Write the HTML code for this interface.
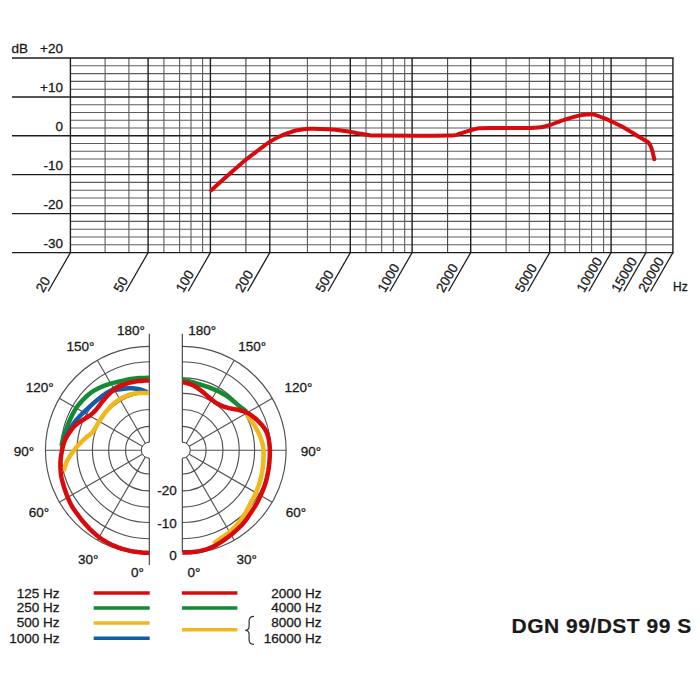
<!DOCTYPE html>
<html><head><meta charset="utf-8"><style>
html,body{margin:0;padding:0;background:#fff;}
svg{display:block;}
text{font-family:"Liberation Sans",sans-serif;fill:#1a1a1a;stroke:#1a1a1a;stroke-width:0.3px;}
</style></head><body>
<svg width="700" height="700" viewBox="0 0 700 700">
<rect width="700" height="700" fill="#fff"/>
<line x1="70.4" y1="65.80" x2="672.9" y2="65.80" stroke="#5c5c5c" stroke-width="1.1"/>
<line x1="70.4" y1="73.60" x2="672.9" y2="73.60" stroke="#5c5c5c" stroke-width="1.1"/>
<line x1="70.4" y1="81.40" x2="672.9" y2="81.40" stroke="#5c5c5c" stroke-width="1.1"/>
<line x1="70.4" y1="89.20" x2="672.9" y2="89.20" stroke="#5c5c5c" stroke-width="1.1"/>
<line x1="70.4" y1="104.74" x2="672.9" y2="104.74" stroke="#5c5c5c" stroke-width="1.1"/>
<line x1="70.4" y1="112.48" x2="672.9" y2="112.48" stroke="#5c5c5c" stroke-width="1.1"/>
<line x1="70.4" y1="120.22" x2="672.9" y2="120.22" stroke="#5c5c5c" stroke-width="1.1"/>
<line x1="70.4" y1="127.96" x2="672.9" y2="127.96" stroke="#5c5c5c" stroke-width="1.1"/>
<line x1="70.4" y1="143.48" x2="672.9" y2="143.48" stroke="#5c5c5c" stroke-width="1.1"/>
<line x1="70.4" y1="151.26" x2="672.9" y2="151.26" stroke="#5c5c5c" stroke-width="1.1"/>
<line x1="70.4" y1="159.04" x2="672.9" y2="159.04" stroke="#5c5c5c" stroke-width="1.1"/>
<line x1="70.4" y1="166.82" x2="672.9" y2="166.82" stroke="#5c5c5c" stroke-width="1.1"/>
<line x1="70.4" y1="182.40" x2="672.9" y2="182.40" stroke="#5c5c5c" stroke-width="1.1"/>
<line x1="70.4" y1="190.20" x2="672.9" y2="190.20" stroke="#5c5c5c" stroke-width="1.1"/>
<line x1="70.4" y1="198.00" x2="672.9" y2="198.00" stroke="#5c5c5c" stroke-width="1.1"/>
<line x1="70.4" y1="205.80" x2="672.9" y2="205.80" stroke="#5c5c5c" stroke-width="1.1"/>
<line x1="70.4" y1="221.40" x2="672.9" y2="221.40" stroke="#5c5c5c" stroke-width="1.1"/>
<line x1="70.4" y1="229.20" x2="672.9" y2="229.20" stroke="#5c5c5c" stroke-width="1.1"/>
<line x1="70.4" y1="237.00" x2="672.9" y2="237.00" stroke="#5c5c5c" stroke-width="1.1"/>
<line x1="70.4" y1="244.80" x2="672.9" y2="244.80" stroke="#5c5c5c" stroke-width="1.1"/>
<line x1="105.1" y1="58.0" x2="105.1" y2="252.6" stroke="#5c5c5c" stroke-width="1.1"/>
<line x1="128.9" y1="58.0" x2="128.9" y2="252.6" stroke="#5c5c5c" stroke-width="1.1"/>
<line x1="163.9" y1="58.0" x2="163.9" y2="252.6" stroke="#5c5c5c" stroke-width="1.1"/>
<line x1="179.6" y1="58.0" x2="179.6" y2="252.6" stroke="#5c5c5c" stroke-width="1.1"/>
<line x1="191.0" y1="58.0" x2="191.0" y2="252.6" stroke="#5c5c5c" stroke-width="1.1"/>
<line x1="202.6" y1="58.0" x2="202.6" y2="252.6" stroke="#5c5c5c" stroke-width="1.1"/>
<line x1="245.9" y1="58.0" x2="245.9" y2="252.6" stroke="#444" stroke-width="1.1"/>
<line x1="307.4" y1="58.0" x2="307.4" y2="252.6" stroke="#5c5c5c" stroke-width="1.1"/>
<line x1="330.4" y1="58.0" x2="330.4" y2="252.6" stroke="#5c5c5c" stroke-width="1.1"/>
<line x1="366.0" y1="58.0" x2="366.0" y2="252.6" stroke="#5c5c5c" stroke-width="1.1"/>
<line x1="381.7" y1="58.0" x2="381.7" y2="252.6" stroke="#5c5c5c" stroke-width="1.1"/>
<line x1="393.3" y1="58.0" x2="393.3" y2="252.6" stroke="#5c5c5c" stroke-width="1.1"/>
<line x1="404.7" y1="58.0" x2="404.7" y2="252.6" stroke="#5c5c5c" stroke-width="1.1"/>
<line x1="447.6" y1="58.0" x2="447.6" y2="252.6" stroke="#444" stroke-width="1.1"/>
<line x1="506.1" y1="58.0" x2="506.1" y2="252.6" stroke="#5c5c5c" stroke-width="1.1"/>
<line x1="529.3" y1="58.0" x2="529.3" y2="252.6" stroke="#5c5c5c" stroke-width="1.1"/>
<line x1="565.0" y1="58.0" x2="565.0" y2="252.6" stroke="#5c5c5c" stroke-width="1.1"/>
<line x1="579.6" y1="58.0" x2="579.6" y2="252.6" stroke="#5c5c5c" stroke-width="1.1"/>
<line x1="591.6" y1="58.0" x2="591.6" y2="252.6" stroke="#5c5c5c" stroke-width="1.1"/>
<line x1="603.6" y1="58.0" x2="603.6" y2="252.6" stroke="#5c5c5c" stroke-width="1.1"/>
<line x1="646.0" y1="58.0" x2="646.0" y2="252.6" stroke="#444" stroke-width="1.1"/>
<line x1="70.4" y1="58.0" x2="70.4" y2="252.6" stroke="#1e1e1e" stroke-width="1.4"/>
<line x1="148.1" y1="58.0" x2="148.1" y2="252.6" stroke="#1e1e1e" stroke-width="1.4"/>
<line x1="210.4" y1="58.0" x2="210.4" y2="252.6" stroke="#1e1e1e" stroke-width="1.4"/>
<line x1="269.8" y1="58.0" x2="269.8" y2="252.6" stroke="#1e1e1e" stroke-width="1.4"/>
<line x1="350.3" y1="58.0" x2="350.3" y2="252.6" stroke="#1e1e1e" stroke-width="1.4"/>
<line x1="412.1" y1="58.0" x2="412.1" y2="252.6" stroke="#1e1e1e" stroke-width="1.4"/>
<line x1="470.7" y1="58.0" x2="470.7" y2="252.6" stroke="#1e1e1e" stroke-width="1.4"/>
<line x1="549.7" y1="58.0" x2="549.7" y2="252.6" stroke="#1e1e1e" stroke-width="1.4"/>
<line x1="611.1" y1="58.0" x2="611.1" y2="252.6" stroke="#1e1e1e" stroke-width="1.4"/>
<line x1="672.9" y1="58.0" x2="672.9" y2="252.6" stroke="#1e1e1e" stroke-width="1.4"/>
<line x1="12" y1="58.0" x2="673.6" y2="58.0" stroke="#1e1e1e" stroke-width="1.4"/>
<line x1="12" y1="97.0" x2="673.6" y2="97.0" stroke="#1e1e1e" stroke-width="1.4"/>
<line x1="12" y1="135.7" x2="673.6" y2="135.7" stroke="#1e1e1e" stroke-width="1.4"/>
<line x1="12" y1="174.6" x2="673.6" y2="174.6" stroke="#1e1e1e" stroke-width="1.4"/>
<line x1="12" y1="213.6" x2="673.6" y2="213.6" stroke="#1e1e1e" stroke-width="1.4"/>
<line x1="12" y1="252.6" x2="673.6" y2="252.6" stroke="#1e1e1e" stroke-width="1.4"/>
<line x1="70.4" y1="252.6" x2="48.2" y2="291.3" stroke="#1e1e1e" stroke-width="1.3"/>
<text x="0" y="0" transform="translate(43.20,293.20) rotate(-60)" font-size="13.5">20</text>
<line x1="148.1" y1="252.6" x2="125.89999999999999" y2="291.3" stroke="#1e1e1e" stroke-width="1.3"/>
<text x="0" y="0" transform="translate(120.90,293.20) rotate(-60)" font-size="13.5">50</text>
<line x1="210.4" y1="252.6" x2="188.20000000000002" y2="291.3" stroke="#1e1e1e" stroke-width="1.3"/>
<text x="0" y="0" transform="translate(183.20,293.20) rotate(-60)" font-size="13.5">100</text>
<line x1="269.8" y1="252.6" x2="247.60000000000002" y2="291.3" stroke="#1e1e1e" stroke-width="1.3"/>
<text x="0" y="0" transform="translate(242.60,293.20) rotate(-60)" font-size="13.5">200</text>
<line x1="350.3" y1="252.6" x2="328.1" y2="291.3" stroke="#1e1e1e" stroke-width="1.3"/>
<text x="0" y="0" transform="translate(323.10,293.20) rotate(-60)" font-size="13.5">500</text>
<line x1="412.1" y1="252.6" x2="389.90000000000003" y2="291.3" stroke="#1e1e1e" stroke-width="1.3"/>
<text x="0" y="0" transform="translate(384.90,293.20) rotate(-60)" font-size="13.5">1000</text>
<line x1="470.7" y1="252.6" x2="448.5" y2="291.3" stroke="#1e1e1e" stroke-width="1.3"/>
<text x="0" y="0" transform="translate(443.50,293.20) rotate(-60)" font-size="13.5">2000</text>
<line x1="549.7" y1="252.6" x2="527.5" y2="291.3" stroke="#1e1e1e" stroke-width="1.3"/>
<text x="0" y="0" transform="translate(522.50,293.20) rotate(-60)" font-size="13.5">5000</text>
<line x1="611.1" y1="252.6" x2="588.9" y2="291.3" stroke="#1e1e1e" stroke-width="1.3"/>
<text x="0" y="0" transform="translate(583.90,293.20) rotate(-60)" font-size="13.5">10000</text>
<line x1="646.0" y1="252.6" x2="623.8" y2="291.3" stroke="#1e1e1e" stroke-width="1.3"/>
<text x="0" y="0" transform="translate(618.80,293.20) rotate(-60)" font-size="13.5">15000</text>
<line x1="672.9" y1="252.6" x2="650.6999999999999" y2="291.3" stroke="#1e1e1e" stroke-width="1.3"/>
<text x="0" y="0" transform="translate(645.70,293.20) rotate(-60)" font-size="13.5">20000</text>
<text x="63" y="53.3" text-anchor="end" font-size="13.5">+20</text>
<text x="63" y="92.0" text-anchor="end" font-size="13.5">+10</text>
<text x="63" y="130.7" text-anchor="end" font-size="13.5">0</text>
<text x="63" y="170.0" text-anchor="end" font-size="13.5">-10</text>
<text x="63" y="209.0" text-anchor="end" font-size="13.5">-20</text>
<text x="63" y="248.0" text-anchor="end" font-size="13.5">-30</text>
<text x="11.5" y="53.3" font-size="13.5">dB</text>
<text x="673" y="290.6" font-size="12">Hz</text>
<path d="M211.3,190.3 C214.18,187.72 222.85,179.88 228.60,174.80 C234.35,169.72 240.80,163.93 245.80,159.80 C250.80,155.67 254.62,152.98 258.60,150.00 C262.58,147.02 266.13,144.18 269.70,141.90 C273.27,139.62 276.85,137.80 280.00,136.30 C283.15,134.80 285.75,133.90 288.60,132.90 C291.45,131.90 293.53,130.98 297.10,130.30 C300.67,129.62 304.75,128.97 310.00,128.80 C315.25,128.63 323.12,128.98 328.60,129.30 C334.08,129.62 338.17,130.07 342.90,130.70 C347.63,131.33 352.72,132.38 357.00,133.10 C361.28,133.82 364.77,134.58 368.60,135.00 C372.43,135.42 366.77,135.52 380.00,135.60 C393.23,135.68 434.77,135.83 448.00,135.50 C461.23,135.17 455.97,134.37 459.40,133.60 C462.83,132.83 465.27,131.80 468.60,130.90 C471.93,130.00 474.17,128.68 479.40,128.20 C484.63,127.72 492.28,128.03 500.00,128.00 C507.72,127.97 518.87,128.13 525.70,128.00 C532.53,127.87 536.95,127.70 541.00,127.20 C545.05,126.70 546.83,125.98 550.00,125.00 C553.17,124.02 557.50,122.20 560.00,121.30 C562.50,120.40 561.67,120.58 565.00,119.60 C568.33,118.62 576.00,116.27 580.00,115.40 C584.00,114.53 586.67,114.53 589.00,114.40 C591.33,114.27 591.50,113.97 594.00,114.60 C596.50,115.23 600.33,116.70 604.00,118.20 C607.67,119.70 612.98,122.20 616.00,123.60 C619.02,125.00 619.88,125.38 622.10,126.60 C624.32,127.82 626.92,129.47 629.30,130.90 C631.68,132.33 634.02,133.77 636.40,135.20 C638.78,136.63 641.62,138.30 643.60,139.50 C645.58,140.70 647.52,141.92 648.30,142.40 L648.3,142.4 C648.68,143.00 649.88,144.40 650.60,146.00 C651.32,147.60 651.98,149.78 652.60,152.00 C653.22,154.22 654.02,158.08 654.30,159.30" fill="none" stroke="#d80a0e" stroke-width="4.0" stroke-linejoin="round" stroke-linecap="round"/>
<path d="M149.3,426.4 A23.8,23.8 0 0 0 149.3,474.0" fill="none" stroke="#505050" stroke-width="1.15"/>
<path d="M149.3,409.5 A40.7,40.7 0 0 0 149.3,490.9" fill="none" stroke="#505050" stroke-width="1.15"/>
<path d="M149.3,393.3 A56.9,56.9 0 0 0 149.3,507.09999999999997" fill="none" stroke="#505050" stroke-width="1.15"/>
<path d="M149.3,377.9 A72.3,72.3 0 0 0 149.3,522.5" fill="none" stroke="#505050" stroke-width="1.15"/>
<path d="M149.3,361.7 A88.5,88.5 0 0 0 149.3,538.7" fill="none" stroke="#505050" stroke-width="1.15"/>
<path d="M149.3,346.29999999999995 A103.9,103.9 0 0 0 149.3,554.1" fill="none" stroke="#505050" stroke-width="1.15"/>
<line x1="145.30" y1="457.13" x2="97.35" y2="540.18" stroke="#505050" stroke-width="1.1"/>
<line x1="142.37" y1="454.20" x2="59.32" y2="502.15" stroke="#505050" stroke-width="1.1"/>
<line x1="141.30" y1="450.20" x2="45.40" y2="450.20" stroke="#505050" stroke-width="1.1"/>
<line x1="142.37" y1="446.20" x2="59.32" y2="398.25" stroke="#505050" stroke-width="1.1"/>
<line x1="145.30" y1="443.27" x2="97.35" y2="360.22" stroke="#505050" stroke-width="1.1"/>
<line x1="149.3" y1="333.7" x2="149.3" y2="442.2" stroke="#3a3a3a" stroke-width="1.1"/>
<line x1="149.3" y1="458.2" x2="149.3" y2="565" stroke="#3a3a3a" stroke-width="1.1"/>
<path d="M149.3,442.2 A8,8 0 0 0 149.3,458.2" fill="none" stroke="#3a3a3a" stroke-width="1"/>
<path d="M182.3,426.4 A23.8,23.8 0 0 1 182.3,474.0" fill="none" stroke="#505050" stroke-width="1.15"/>
<path d="M182.3,409.5 A40.7,40.7 0 0 1 182.3,490.9" fill="none" stroke="#505050" stroke-width="1.15"/>
<path d="M182.3,393.3 A56.9,56.9 0 0 1 182.3,507.09999999999997" fill="none" stroke="#505050" stroke-width="1.15"/>
<path d="M182.3,377.9 A72.3,72.3 0 0 1 182.3,522.5" fill="none" stroke="#505050" stroke-width="1.15"/>
<path d="M182.3,361.7 A88.5,88.5 0 0 1 182.3,538.7" fill="none" stroke="#505050" stroke-width="1.15"/>
<path d="M182.3,346.29999999999995 A103.9,103.9 0 0 1 182.3,554.1" fill="none" stroke="#505050" stroke-width="1.15"/>
<line x1="186.30" y1="457.13" x2="234.25" y2="540.18" stroke="#505050" stroke-width="1.1"/>
<line x1="189.23" y1="454.20" x2="272.28" y2="502.15" stroke="#505050" stroke-width="1.1"/>
<line x1="190.30" y1="450.20" x2="286.20" y2="450.20" stroke="#505050" stroke-width="1.1"/>
<line x1="189.23" y1="446.20" x2="272.28" y2="398.25" stroke="#505050" stroke-width="1.1"/>
<line x1="186.30" y1="443.27" x2="234.25" y2="360.22" stroke="#505050" stroke-width="1.1"/>
<line x1="182.3" y1="333.7" x2="182.3" y2="442.2" stroke="#3a3a3a" stroke-width="1.1"/>
<line x1="182.3" y1="458.2" x2="182.3" y2="552.5" stroke="#3a3a3a" stroke-width="1.1"/>
<path d="M182.3,442.2 A8,8 0 0 1 182.3,458.2" fill="none" stroke="#3a3a3a" stroke-width="1"/>
<path d="M149.00,377.80 L146.99,377.84 L144.99,377.89 L142.98,377.95 L140.98,378.02 L138.98,378.12 L136.98,378.25 L134.98,378.42 L132.99,378.64 L131.02,378.93 L129.06,379.29 L127.11,379.71 L125.17,380.17 L123.22,380.64 L121.28,381.09 L119.32,381.51 L117.37,381.93 L115.41,382.37 L113.46,382.83 L111.53,383.35 L109.61,383.92 L107.71,384.55 L105.82,385.22 L103.95,385.94 L102.09,386.69 L100.25,387.48 L98.43,388.30 L96.63,389.18 L94.88,390.12 L93.17,391.15 L91.53,392.26 L89.94,393.45 L88.40,394.72 L86.90,396.03 L85.43,397.38 L83.99,398.77 L82.58,400.19 L81.22,401.66 L79.91,403.17 L78.64,404.72 L77.43,406.31 L76.28,407.94 L75.19,409.61 L74.16,411.32 L73.19,413.07 L72.27,414.85 L71.38,416.65 L70.54,418.46 L69.72,420.30 L68.94,422.14 L68.18,424.00 L67.45,425.86 L66.73,427.74 L66.03,429.62 L65.36,431.51 L64.70,433.40 L64.08,435.31 L63.49,437.22 L62.96,439.15 L62.49,441.09 L62.07,443.05 L61.68,445.02 L61.50,446.00" fill="none" stroke="#138b32" stroke-width="4.5" stroke-linejoin="round"/>
<path d="M147.50,392.50 L145.71,391.59 L143.89,390.76 L142.03,390.05 L140.12,389.47 L138.17,389.02 L136.19,388.67 L134.20,388.42 L132.20,388.27 L130.20,388.23 L128.20,388.30 L126.21,388.49 L124.22,388.76 L122.23,389.06 L120.24,389.35 L118.24,389.62 L116.25,389.88 L114.26,390.18 L112.30,390.55 L110.40,391.10 L108.58,391.85 L106.85,392.81 L105.19,393.93 L103.58,395.13 L102.00,396.37 L100.42,397.62 L98.83,398.86 L97.25,400.10 L95.68,401.36 L94.14,402.65 L92.63,403.98 L91.13,405.33 L89.65,406.69 L88.17,408.05 L86.69,409.43 L85.23,410.81 L83.77,412.20 L82.33,413.60 L80.91,415.03 L79.51,416.48 L78.14,417.95 L76.81,419.45 L75.52,421.00 L74.31,422.60 L73.16,424.25 L72.07,425.94 L71.04,427.66 L70.02,429.40 L69.00,431.14 L67.99,432.88 L66.98,434.62 L65.98,436.37 L64.99,438.12 L64.50,439.00" fill="none" stroke="#115cab" stroke-width="4.5" stroke-linejoin="round"/>
<path d="M149.00,393.20 L146.99,393.11 L144.99,393.03 L142.98,392.99 L140.98,393.01 L138.97,393.09 L136.97,393.23 L134.99,393.46 L133.01,393.80 L131.06,394.24 L129.14,394.78 L127.27,395.46 L125.43,396.27 L123.63,397.14 L121.85,398.06 L120.10,399.05 L118.39,400.10 L116.72,401.20 L115.10,402.37 L113.58,403.65 L112.15,405.05 L110.76,406.50 L109.40,407.97 L108.05,409.46 L106.71,410.96 L105.42,412.49 L104.19,414.07 L103.01,415.69 L101.87,417.35 L100.76,419.02 L99.68,420.71 L98.63,422.42 L97.60,424.14 L96.58,425.87 L95.57,427.61 L94.55,429.33 L93.45,430.99 L92.21,432.52 L90.78,433.88 L89.23,435.12 L87.64,436.35 L86.08,437.61 L84.55,438.91 L83.08,440.26 L81.65,441.67 L80.25,443.11 L78.87,444.57 L77.52,446.06 L76.22,447.58 L74.95,449.13 L73.70,450.71 L72.49,452.30 L71.32,453.93 L70.22,455.61 L69.17,457.32 L68.16,459.05 L67.23,460.82 L66.40,462.64 L65.64,464.50 L64.96,466.38 L64.35,468.29 L63.84,470.23 L63.60,471.20" fill="none" stroke="#f0b81a" stroke-width="4.5" stroke-linejoin="round"/>
<path d="M149.00,380.40 L147.00,380.50 L145.00,380.61 L143.00,380.74 L141.00,380.90 L139.01,381.09 L137.02,381.32 L135.04,381.60 L133.06,381.94 L131.11,382.35 L129.17,382.83 L127.26,383.43 L125.39,384.12 L123.53,384.86 L121.68,385.63 L119.85,386.44 L118.06,387.33 L116.31,388.30 L114.63,389.37 L113.01,390.54 L111.46,391.79 L109.97,393.13 L108.55,394.53 L107.17,395.99 L105.83,397.48 L104.52,398.99 L103.24,400.53 L101.98,402.09 L100.75,403.67 L99.53,405.26 L98.32,406.85 L97.08,408.43 L95.80,409.97 L94.46,411.45 L93.04,412.85 L91.55,414.18 L89.99,415.43 L88.36,416.58 L86.68,417.66 L84.96,418.68 L83.24,419.72 L81.55,420.79 L79.88,421.88 L78.22,423.00 L76.60,424.17 L75.10,425.45 L73.73,426.88 L72.46,428.42 L71.25,430.01 L70.07,431.63 L68.93,433.28 L67.82,434.95 L66.78,436.65 L65.81,438.40 L64.97,440.21 L64.24,442.06 L63.60,443.96 L63.06,445.88 L62.60,447.83 L62.19,449.79 L61.80,451.75 L61.44,453.72 L61.12,455.70 L60.85,457.68 L60.62,459.67 L60.48,461.67 L60.42,463.67 L60.42,465.67 L60.47,467.67 L60.57,469.67 L60.71,471.67 L60.90,473.66 L61.17,475.64 L61.53,477.61 L61.96,479.56 L62.44,481.50 L62.96,483.44 L63.52,485.36 L64.10,487.28 L64.72,489.18 L65.36,491.08 L66.04,492.97 L66.73,494.85 L67.46,496.71 L68.24,498.56 L69.04,500.39 L69.86,502.22 L70.72,504.02 L71.66,505.78 L72.71,507.49 L73.82,509.15 L74.96,510.79 L76.12,512.43 L77.29,514.05 L78.48,515.67 L79.67,517.28 L80.88,518.88 L82.12,520.44 L83.42,521.97 L84.75,523.47 L86.10,524.95 L87.45,526.42 L88.82,527.89 L90.20,529.34 L91.62,530.75 L93.09,532.11 L94.59,533.44 L96.10,534.75 L97.62,536.05 L99.18,537.30 L100.81,538.46 L102.49,539.54 L104.20,540.59 L105.92,541.62 L107.64,542.63 L109.39,543.60 L111.17,544.50 L113.00,545.32 L114.85,546.08 L116.71,546.83 L118.57,547.56 L120.45,548.24 L122.36,548.85 L124.29,549.39 L126.22,549.89 L128.17,550.38 L130.12,550.83 L132.08,551.23 L134.05,551.57 L136.03,551.85 L138.02,552.11 L140.01,552.35 L142.00,552.56 L144.00,552.70 L146.00,552.80 L148.00,552.87 L149.00,552.90" fill="none" stroke="#d80a0e" stroke-width="4.5" stroke-linejoin="round"/>
<path d="M182.60,379.80 L184.58,380.15 L186.55,380.55 L188.50,381.02 L190.44,381.55 L192.37,382.12 L194.29,382.70 L196.22,383.30 L198.14,383.89 L200.06,384.48 L201.98,385.08 L203.91,385.67 L205.83,386.28 L207.73,386.91 L209.63,387.59 L211.50,388.31 L213.36,389.08 L215.21,389.88 L217.03,390.72 L218.84,391.60 L220.64,392.50 L222.42,393.45 L224.17,394.43 L225.90,395.45 L227.59,396.53 L229.24,397.67 L230.82,398.89 L232.35,400.18 L233.87,401.50 L235.39,402.82 L236.93,404.12 L238.48,405.40 L240.05,406.66 L241.63,407.90 L243.22,409.14 L244.81,410.37 L246.40,411.60" fill="none" stroke="#138b32" stroke-width="4.5" stroke-linejoin="round"/>
<path d="M246.40,412.00 L247.13,413.86 L247.92,415.70 L248.83,417.46 L249.88,419.13 L251.05,420.74 L252.26,422.34 L253.42,423.96 L254.52,425.64 L255.57,427.35 L256.56,429.09 L257.50,430.86 L258.40,432.66 L259.24,434.48 L260.03,436.32 L260.75,438.19 L261.42,440.08 L262.02,441.99 L262.54,443.93 L262.95,445.88 L263.25,447.86 L263.44,449.85 L263.54,451.85 L263.57,453.86 L263.54,455.87 L263.48,457.87 L263.39,459.88 L263.26,461.88 L263.11,463.89 L262.92,465.88 L262.69,467.88 L262.41,469.87 L262.09,471.85 L261.71,473.82 L261.31,475.78 L260.86,477.74 L260.39,479.69 L259.87,481.63 L259.31,483.56 L258.69,485.47 L258.01,487.35 L257.29,489.22 L256.53,491.08 L255.74,492.93 L254.92,494.76 L254.07,496.58 L253.19,498.39 L252.27,500.17 L251.31,501.93 L250.33,503.68 L249.36,505.44 L248.42,507.21 L247.50,509.00 L246.58,510.78 L245.63,512.54 L244.61,514.27 L243.53,515.96 L242.39,517.61 L241.22,519.24 L240.01,520.84 L238.77,522.42 L237.49,523.96 L236.18,525.48 L234.81,526.95 L233.40,528.36 L231.93,529.73 L230.43,531.07 L228.91,532.38 L227.36,533.65 L225.77,534.87 L224.14,536.04 L222.49,537.19 L220.84,538.33 L219.20,539.48 L217.56,540.64 L215.93,541.82 L214.31,543.00 L213.50,543.60" fill="none" stroke="#f0b81a" stroke-width="4.5" stroke-linejoin="round"/>
<path d="M182.60,382.30 L184.58,382.61 L186.53,383.00 L188.45,383.53 L190.33,384.19 L192.18,384.94 L193.98,385.80 L195.71,386.79 L197.38,387.89 L199.01,389.04 L200.62,390.23 L202.19,391.48 L203.72,392.78 L205.22,394.10 L206.73,395.42 L208.24,396.74 L209.77,398.03 L211.31,399.31 L212.87,400.57 L214.46,401.78 L216.12,402.89 L217.84,403.88 L219.63,404.78 L221.45,405.62 L223.30,406.36 L225.19,407.00 L227.11,407.57 L229.05,408.07 L231.00,408.51 L232.97,408.90 L234.94,409.25 L236.91,409.62 L238.87,410.02 L240.81,410.50 L242.74,411.05 L244.63,411.67 L246.47,412.43 L248.23,413.35 L249.94,414.38 L251.59,415.51 L253.18,416.72 L254.73,417.99 L256.23,419.31 L257.71,420.67 L259.14,422.07 L260.54,423.50 L261.88,424.98 L263.13,426.54 L264.30,428.16 L265.37,429.84 L266.30,431.60 L267.11,433.42 L267.76,435.30 L268.28,437.23 L268.70,439.18 L269.05,441.15 L269.33,443.14 L269.55,445.13 L269.73,447.12 L269.85,449.12 L269.90,451.12 L269.88,453.12 L269.82,455.13 L269.72,457.13 L269.60,459.13 L269.46,461.13 L269.29,463.13 L269.09,465.12 L268.85,467.11 L268.57,469.09 L268.25,471.07 L267.88,473.04 L267.48,475.01 L267.06,476.96 L266.59,478.91 L266.09,480.85 L265.56,482.78 L264.97,484.70 L264.32,486.59 L263.60,488.46 L262.86,490.32 L262.08,492.17 L261.28,494.00 L260.44,495.83 L259.59,497.64 L258.73,499.45 L257.85,501.25 L256.92,503.02 L255.93,504.76 L254.88,506.47 L253.80,508.16 L252.71,509.84 L251.61,511.52 L250.51,513.20 L249.41,514.87 L248.30,516.54 L247.17,518.19 L246.00,519.82 L244.78,521.41 L243.52,522.96 L242.21,524.48 L240.86,525.95 L239.43,527.36 L237.97,528.72 L236.48,530.06 L234.98,531.40 L233.48,532.72 L231.95,534.02 L230.39,535.28 L228.81,536.50 L227.21,537.71 L225.60,538.90 L223.97,540.08 L222.33,541.22 L220.65,542.32 L218.96,543.39 L217.25,544.44 L215.52,545.45 L213.75,546.37 L211.93,547.20 L210.08,547.96 L208.21,548.68 L206.33,549.34 L204.42,549.93 L202.48,550.43 L200.53,550.89 L198.57,551.29 L196.60,551.61 L194.61,551.84 L192.61,552.01 L190.61,552.14 L188.61,552.23 L186.61,552.28 L184.60,552.30 L182.60,552.30" fill="none" stroke="#d80a0e" stroke-width="4.5" stroke-linejoin="round"/>
<text x="117.0" y="334.5" text-anchor="start" font-size="13.5" >180°</text>
<text x="66.5" y="350.8" text-anchor="start" font-size="13.5" >150°</text>
<text x="25.8" y="391.6" text-anchor="start" font-size="13.5" >120°</text>
<text x="13.8" y="455.5" text-anchor="start" font-size="13.5" >90°</text>
<text x="28.8" y="517.4" text-anchor="start" font-size="13.5" >60°</text>
<text x="78.1" y="563.6" text-anchor="start" font-size="13.5" >30°</text>
<text x="131.0" y="576.9" text-anchor="start" font-size="13.5" >0°</text>
<text x="188.3" y="334.5" text-anchor="start" font-size="13.5" >180°</text>
<text x="238.3" y="350.8" text-anchor="start" font-size="13.5" >150°</text>
<text x="284.5" y="391.6" text-anchor="start" font-size="13.5" >120°</text>
<text x="300.8" y="455.5" text-anchor="start" font-size="13.5" >90°</text>
<text x="285.8" y="517.0" text-anchor="start" font-size="13.5" >60°</text>
<text x="236.6" y="563.8" text-anchor="start" font-size="13.5" >30°</text>
<text x="187.5" y="576.9" text-anchor="start" font-size="13.5" >0°</text>
<text x="176.8" y="495.4" text-anchor="end" font-size="13.5" >-20</text>
<text x="176.8" y="528.3" text-anchor="end" font-size="13.5" >-10</text>
<text x="176.8" y="560.2" text-anchor="end" font-size="13.5" >0</text>
<text x="59.5" y="597.8" text-anchor="end" font-size="13.5" >125 Hz</text>
<text x="59.5" y="612.3" text-anchor="end" font-size="13.5" >250 Hz</text>
<text x="59.5" y="627.1" text-anchor="end" font-size="13.5" >500 Hz</text>
<text x="59.5" y="642.5" text-anchor="end" font-size="13.5" >1000 Hz</text>
<text x="321.5" y="597.8" text-anchor="end" font-size="13.5" >2000 Hz</text>
<text x="321.5" y="612.3" text-anchor="end" font-size="13.5" >4000 Hz</text>
<text x="321.5" y="627.1" text-anchor="end" font-size="13.5" >8000 Hz</text>
<text x="321.5" y="642.5" text-anchor="end" font-size="13.5" >16000 Hz</text>
<line x1="93.7" y1="593" x2="149.7" y2="593" stroke="#d80a0e" stroke-width="3.5"/>
<line x1="93.7" y1="608.1" x2="149.7" y2="608.1" stroke="#138b32" stroke-width="3.5"/>
<line x1="93.7" y1="623" x2="149.7" y2="623" stroke="#f0b81a" stroke-width="3.5"/>
<line x1="93.7" y1="638.3" x2="149.7" y2="638.3" stroke="#115cab" stroke-width="3.5"/>
<line x1="181.9" y1="593" x2="237.4" y2="593" stroke="#d80a0e" stroke-width="3.5"/>
<line x1="181.9" y1="608.1" x2="237.4" y2="608.1" stroke="#138b32" stroke-width="3.5"/>
<line x1="181.9" y1="629.8" x2="237.4" y2="629.8" stroke="#f0b81a" stroke-width="3.5"/>
<path d="M254,616.4 C250.2,616.4 249.1,617.8 249.1,621 L249.1,626.3 C249.1,629 248.3,630.3 245.2,630.3 C248.3,630.3 249.1,631.6 249.1,634.3 L249.1,640 C249.1,643 250.2,644.3 254,644.3" fill="none" stroke="#333" stroke-width="1.2"/>
<text x="511.5" y="632.9" text-anchor="start" font-size="21" font-weight="bold" letter-spacing="0.5" style="stroke-width:0.2px">DGN 99/DST 99 S</text>
</svg></body></html>
